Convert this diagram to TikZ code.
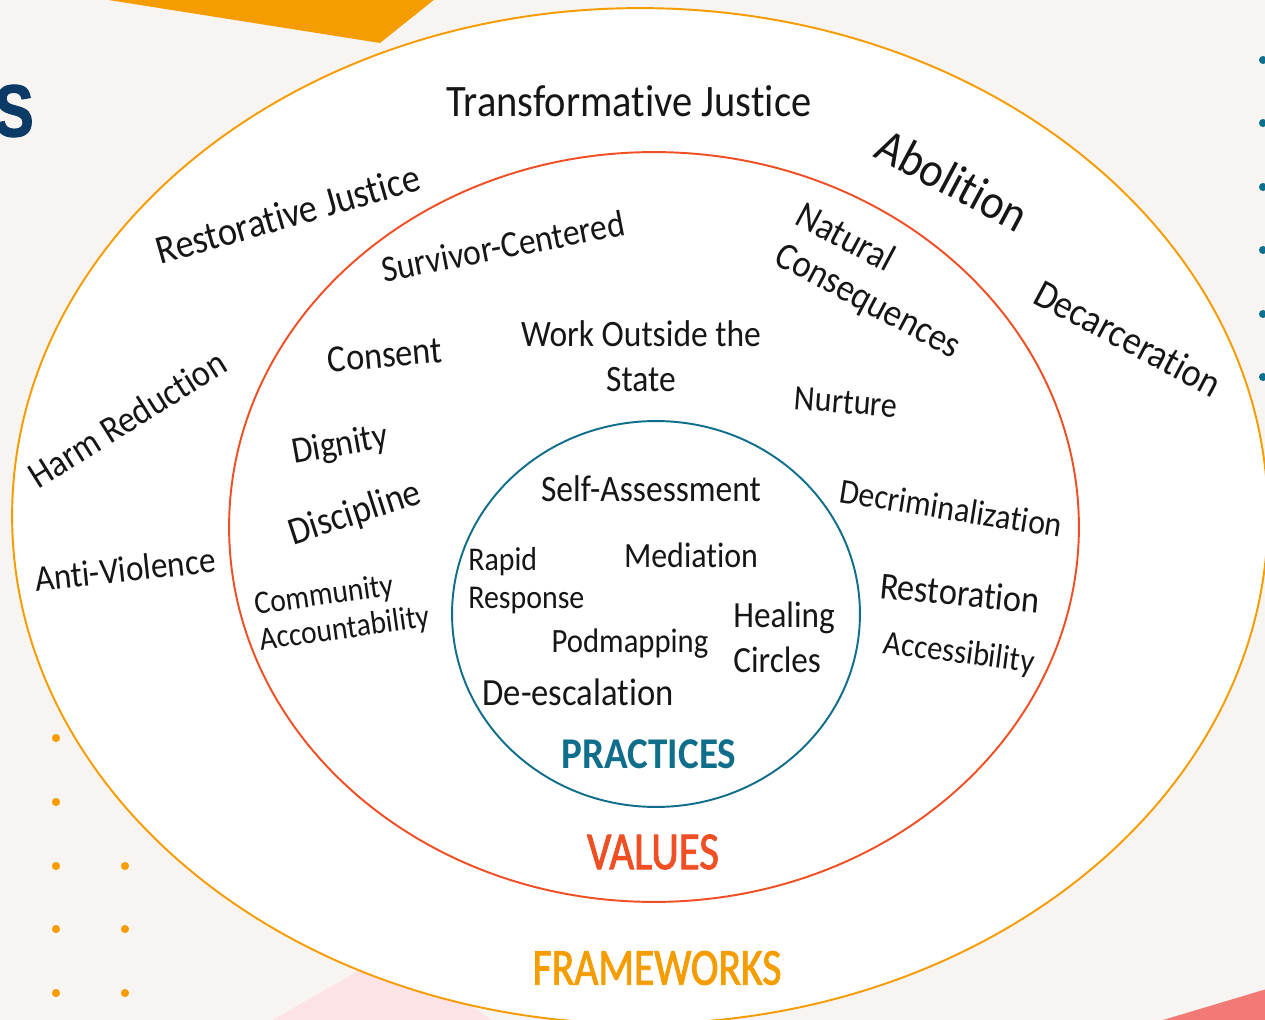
\documentclass[tikz,border=0pt]{standalone}
\usepackage{fontspec}
\setmainfont[FakeStretch=0.9,Ligatures=NoCommon]{Carlito}
\newfontfamily\capsfont[FakeStretch=0.8,FakeBold=1.6]{Carlito}
\newfontfamily\practfont[FakeStretch=0.89]{Carlito}
\newfontfamily\heavyfont[FakeStretch=0.8,FakeBold=1.5]{Liberation Sans}
\definecolor{paper}{HTML}{F7F4F1}
\definecolor{orng}{HTML}{F59C00}
\definecolor{rouge}{HTML}{F04E23}
\definecolor{tealc}{HTML}{0F6E8A}
\definecolor{navy}{HTML}{0B3A67}
\definecolor{pinkc}{HTML}{FDE2E6}
\definecolor{salmon}{HTML}{F27A76}
\definecolor{ink}{HTML}{161616}
\begin{document}
\begin{tikzpicture}[x=0.02cm,y=-0.02cm,
  lbl/.style={text=ink,inner sep=0pt},
  sz/.style 2 args={font=\fontsize{#1}{#2}\selectfont},
  ring/.style={line width=1.1pt,fill=white,draw=#1}]
\useasboundingbox (0,0) rectangle (1265,1020);
\clip (0,0) rectangle (1265,1020);
\fill[paper] (0,0) rectangle (1265,1020);
% background shapes
\fill[orng] (77,-5)--(380,43)--(440,-5)--cycle;
\fill[pinkc] (255,1030)--(395,950)--(505,1030)--cycle;
\fill[salmon] (1163,1020)--(1270,988)--(1270,1025)--cycle;
\node[font=\heavyfont\bfseries\fontsize{42}{42}\selectfont,text=navy,anchor=east,inner sep=0pt] (bigs) at (34,111) {S};
\foreach \y in {738,802,866,929,993}{
  \fill[orng] (56,\y) circle (2.3pt);
  \fill[orng] (125,\y) circle (2.3pt);}
\foreach \y in {60,123,187,250,314,377}
  \fill[tealc] (1263,\y) circle (2.3pt);
% rings
\draw[ring=orng] (640,516) ellipse [x radius=12.56cm,y radius=10.16cm];
\draw[ring=rouge] (654,527) ellipse [x radius=8.5cm,y radius=7.5cm];
\draw[ring=tealc] (656,614) ellipse [x radius=4.08cm,y radius=3.86cm];
% frameworks
\node[lbl,sz={25.6}{30}] (tj) at (629,101) {Transformative Justice};
\node[lbl,sz={27.9}{33},rotate=-28] (abol) at (953,180) {Abolition};
\node[lbl,sz={22.8}{27},rotate=-28] (decar) at (1128,338) {Decarceration};
\node[lbl,sz={23}{27},rotate=16] (rj) at (288,214) {Restorative Justice};
\node[lbl,sz={21.6}{26},rotate=32] (harm) at (127,419) {Harm Reduction};
\node[lbl,sz={21}{25},rotate=6] (anti) at (125,569) {Anti-Violence};
\node[font=\capsfont\fontsize{29.6}{34}\selectfont,text=orng] (frame) at (657,968) {FRAMEWORKS};
% values
\node[lbl,sz={21.2}{25},rotate=11] (surv) at (503,246) {Survivor-Centered};
\node[lbl,sz={21.8}{26},rotate=5] (cons) at (385,355) {Consent};
\node[lbl,sz={21.3}{25},rotate=10] (dign) at (340,446) {Dignity};
\node[lbl,sz={22.2}{26},rotate=18] (disc) at (355,514) {Discipline};
\node[lbl,sz={18.7}{20.5},rotate=8,align=left] (comm) at (342,612) {Community\\Accountability};
\node[lbl,sz={21.2}{25.5},align=center] (work) at (641,356) {Work Outside the\\State};
\node[lbl,sz={22}{25.5},rotate=-28,align=left] (natc) at (878,282) {Natural\\Consequences};
\node[lbl,sz={20.3}{24},rotate=-4.5] (nurt) at (846,402) {Nurture};
\node[lbl,sz={20.1}{24},rotate=-9] (decr) at (951,508) {Decriminalization};
\node[lbl,sz={21.7}{26},rotate=-5.5] (rest) at (960,593) {Restoration};
\node[lbl,sz={19.4}{23},rotate=-7.5] (acc) at (959,654) {Accessibility};
\node[font=\capsfont\fontsize{30.5}{35}\selectfont,text=rouge] (values) at (653,852) {VALUES};
% practices
\node[lbl,sz={21.2}{25}] (self) at (651,489) {Self-Assessment};
\node[lbl,sz={20.2}{24}] (med) at (691,555) {Mediation};
\node[lbl,sz={18.9}{21.5},align=left,anchor=west] (rapid) at (468,581) {Rapid\\Response};
\node[lbl,sz={19.4}{23}] (pod) at (630,644) {Podmapping};
\node[lbl,sz={21}{25.5},align=left,anchor=west] (heal) at (733,637) {Healing\\Circles};
\node[lbl,sz={21.9}{26}] (desc) at (578,692) {De-escalation};
\node[font=\practfont\bfseries\fontsize{25}{30}\selectfont,text=tealc] (practices) at (649,754) {PRACTICES};
\end{tikzpicture}
\end{document}
